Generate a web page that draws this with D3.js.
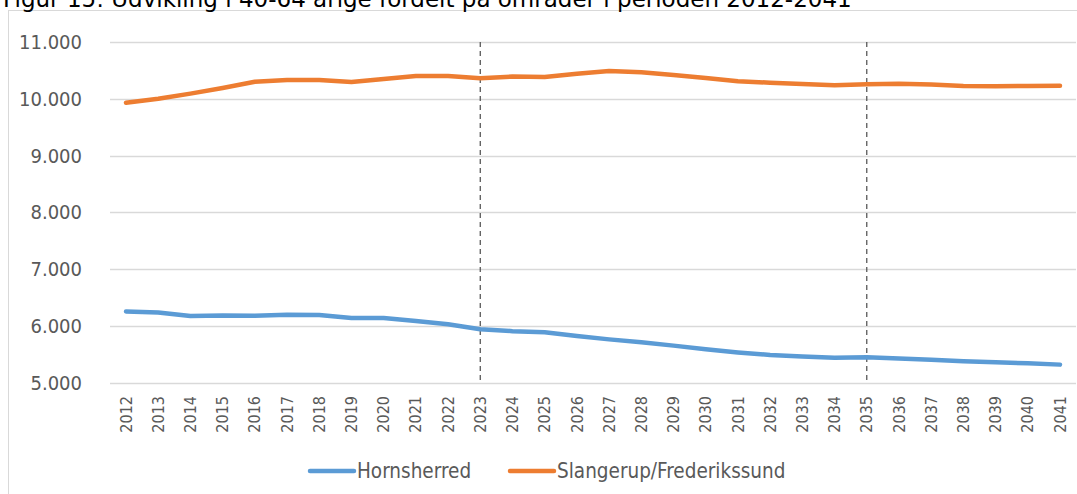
<!DOCTYPE html>
<meta charset="utf-8">
<title>Figur 15</title>
<style>
  body { margin: 0; background: #fff; }
  svg { display: block; }
</style>
<body>
  <div id="container"></div>
  <script src="https://cdn.jsdelivr.net/npm/d3@7/dist/d3.min.js"></script>
  <script>

    const years = d3.range(2012, 2042);
    const seriesNames = ['Hornsherred', 'Slangerup/Frederikssund'];
    const hornsherred = [6250, 6235, 6170, 6180, 6175, 6195, 6190, 6135, 6135, 6085,
                         6025, 5940, 5905, 5885, 5820, 5760, 5710, 5650, 5585, 5530,
                         5485, 5460, 5435, 5445, 5425, 5400, 5375, 5355, 5340, 5315];
    const slangerup = [9930, 10000, 10090, 10190, 10300, 10330, 10330, 10295, 10350, 10400,
                       10400, 10360, 10390, 10385, 10440, 10490, 10465, 10420, 10365, 10307,
                       10283, 10260, 10240, 10255, 10265, 10250, 10225, 10220, 10225, 10230];
    const yTicks = [5000, 6000, 7000, 8000, 9000, 10000, 11000];
    const markerYears = [2023, 2035];
    const colors = ['#5b9bd5', '#ed7d31'];
    const title = 'Figur 15: Udvikling i 40-64 årige fordelt på områder i perioden 2012-2041';

    const width = 1077;
    const height = 494;
    const font = '"DejaVu Sans Condensed", "DejaVu Sans", sans-serif';

    const svg = d3.select('#container')
      .append('svg')
      .attr('width', width)
      .attr('height', height);

    // chart frame (runs off the right and bottom)
    svg.append('rect')
      .attr('x', 8.5).attr('y', 10.5)
      .attr('width', width + 20).attr('height', height + 20)
      .attr('fill', 'none')
      .attr('stroke', '#d9d9d9');

    // title sits partly above the top edge, as in the source
    svg.append('text')
      .attr('x', 3).attr('y', 7)
      .attr('font-family', '"DejaVu Sans", sans-serif')
      .attr('font-size', 23)
      .attr('fill', '#000')
      .text(title);

    const x = d3.scalePoint()
      .domain(years)
      .range([126, 1060]);

    const y = d3.scaleLinear()
      .domain([5000, 11000])
      .range([382.5, 42]);

    const fmt = d => d3.format(',')(d).replace(/,/g, '.');

    // gridlines
    svg.append('g')
      .selectAll('line')
      .data(yTicks)
      .join('line')
      .attr('x1', 110).attr('x2', 1076)
      .attr('y1', d => Math.round(y(d)) + 0.5)
      .attr('y2', d => Math.round(y(d)) + 0.5)
      .attr('stroke', '#d9d9d9')
      .attr('stroke-width', 1.3);

    // y labels
    svg.append('g')
      .selectAll('text')
      .data(yTicks)
      .join('text')
      .attr('x', 82)
      .attr('y', d => y(d))
      .attr('dy', '0.35em')
      .attr('text-anchor', 'end')
      .attr('font-family', font)
      .attr('font-size', 20)
      .attr('fill', '#595959')
      .text(fmt);

    // x labels, rotated
    svg.append('g')
      .selectAll('text')
      .data(years)
      .join('text')
      .attr('transform', d => `translate(${x(d)},396) rotate(-90)`)
      .attr('dy', '0.35em')
      .attr('text-anchor', 'end')
      .attr('font-family', font)
      .attr('font-size', 16)
      .attr('fill', '#595959')
      .text(d => d);

    // dashed marker lines
    svg.append('g')
      .selectAll('line')
      .data(markerYears)
      .join('line')
      .attr('x1', d => x(d)).attr('x2', d => x(d))
      .attr('y1', y(11000)).attr('y2', y(5000))
      .attr('stroke', '#595959')
      .attr('stroke-width', 1.3)
      .attr('stroke-dasharray', '5,4');

    const line = d3.line()
      .x((d, i) => x(years[i]))
      .y(d => y(d));

    svg.append('g')
      .selectAll('path')
      .data([hornsherred, slangerup])
      .join('path')
      .attr('d', line)
      .attr('fill', 'none')
      .attr('stroke', (d, i) => colors[i])
      .attr('stroke-width', 4.5)
      .attr('stroke-linejoin', 'round')
      .attr('stroke-linecap', 'round');

    // legend
    const legendX = [310, 510];
    const legend = svg.append('g')
      .selectAll('g')
      .data(seriesNames)
      .join('g')
      .attr('transform', (d, i) => `translate(${legendX[i]},471)`);

    legend.append('line')
      .attr('x1', 0).attr('x2', 44)
      .attr('stroke', (d, i) => colors[i])
      .attr('stroke-width', 4.5)
      .attr('stroke-linecap', 'round');

    legend.append('text')
      .attr('x', 47)
      .attr('dy', '0.35em')
      .attr('font-family', font)
      .attr('font-size', 20.5)
      .attr('fill', '#595959')
      .text(d => d);

  </script>
</body>
